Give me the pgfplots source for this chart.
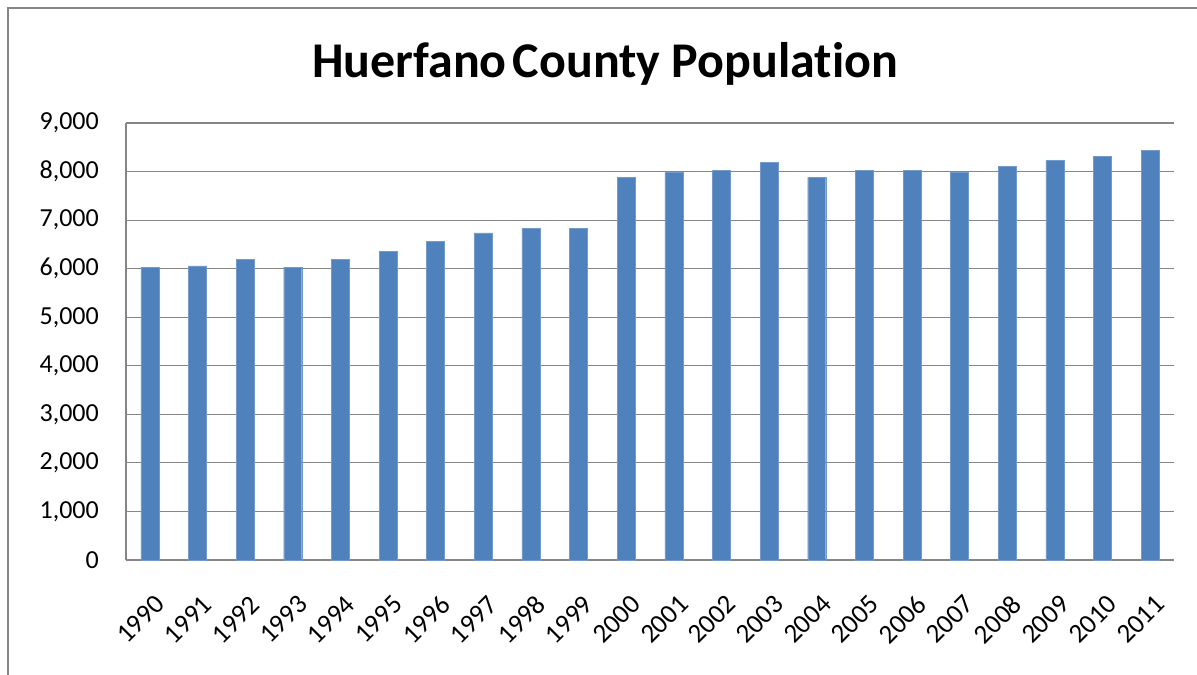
\documentclass[border=0pt]{standalone}
\usepackage{pgfplots}
\pgfplotsset{compat=1.18}
\usepackage{fontspec}
\setmainfont{Carlito}[Ligatures={NoCommon}]
\definecolor{barblue}{HTML}{4F81BD}
\definecolor{gridgray}{HTML}{868686}
\begin{document}
\begin{tikzpicture}
\useasboundingbox (0,0) rectangle (1197bp,-675bp);
\fill[white] (0,0) rectangle (1197bp,-675bp);
\draw[gridgray, line width=1.2bp] (8bp,-675bp) -- (8bp,-8bp) -- (1197bp,-8bp);
\node[anchor=base, font=\fontsize{50bp}{56bp}\selectfont\bfseries] at (605bp,-77bp) {Huerfano\hspace{0.12em}County Population};
\begin{axis}[
  at={(126bp,-560bp)}, anchor=south west,
  width=1048bp, height=437bp, scale only axis,
  xmin=-0.5, xmax=21.5, ymin=0, ymax=9000,
  ybar, bar width=18bp, bar shift=0pt,
  axis x line*=bottom, axis y line*=left,
  axis line style={-, draw=gridgray, line width=1.2bp},
  ymajorgrids, grid style={draw=gridgray, line width=1.2bp},
  major tick length=0pt,
  ytick={0,1000,...,9000},
  xtick={0,...,21},
  xticklabels={1990,1991,1992,1993,1994,1995,1996,1997,1998,1999,2000,2001,2002,2003,2004,2005,2006,2007,2008,2009,2010,2011},
  /pgf/number format/.cd, assume math mode=true, 1000 sep={,},
  /pgfplots/.cd,
  yticklabel style={anchor=east, inner sep=0pt, xshift=-27bp, font=\fontsize{26bp}{30bp}\selectfont},
  xticklabel style={xshift=10bp, yshift=-40bp, rotate=45, anchor=east, inner sep=0pt, font=\fontsize{27bp}{30bp}\selectfont},
]
\addplot[fill=barblue, draw=barblue!80!white] coordinates {
(0,6030) (1,6060) (2,6185) (3,6030) (4,6185) (5,6358) (6,6570) (7,6735) (8,6825) (9,6825)
(10,7880) (11,7980) (12,8027) (13,8190) (14,7880) (15,8027) (16,8027) (17,7980) (18,8110) (19,8230) (20,8315) (21,8440)
};
\end{axis}
\end{tikzpicture}
\end{document}
